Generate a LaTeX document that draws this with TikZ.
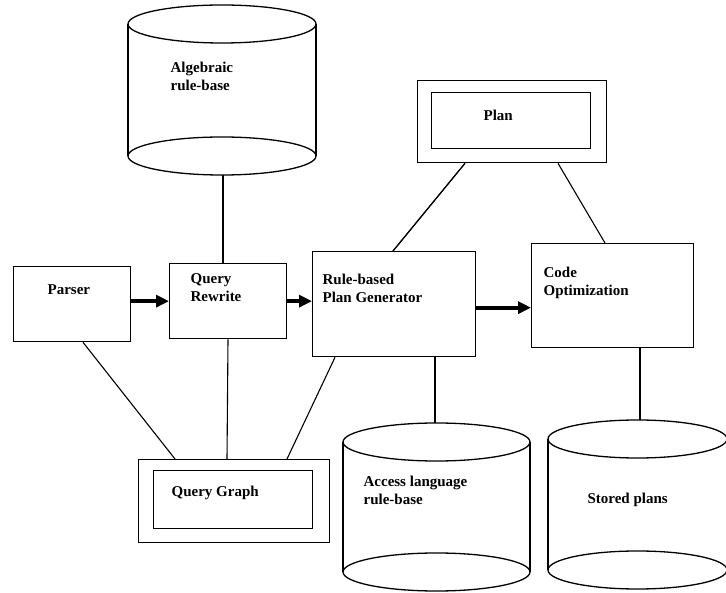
\documentclass[tikz,border=0pt]{standalone}
\usepackage{fontspec}
\setmainfont{Liberation Serif}
\usetikzlibrary{arrows.meta,calc}
\begin{document}
\begin{tikzpicture}[x=1pt,y=-1pt,
  line width=1.2pt,
  box/.style={draw,line width=1.3pt,inner sep=0pt,anchor=north west},
  lbl/.style={font=\fontsize{15}{18}\selectfont\bfseries,inner sep=0pt,anchor=west,align=left},
  conn/.style={line width=1.1pt},
  bigarrow/.style={line width=4pt,-{Triangle[length=13pt,width=12pt]}}]
\useasboundingbox[fill=white] (0,0) rectangle (726,593);

% boxes
\node[box,minimum width=117pt,minimum height=75pt] (parser) at (13,266) {};
\node[box,minimum width=117pt,minimum height=75pt] (qr) at (169,263) {};
\node[box,minimum width=163pt,minimum height=105pt] (rpg) at (312,251) {};
\node[box,minimum width=162pt,minimum height=104pt] (code) at (531,243) {};
\node[box,minimum width=189pt,minimum height=82pt] (planout) at (417,80) {};
\node[box,minimum width=159pt,minimum height=56pt] (planin) at (431,92) {};
\node[box,minimum width=191pt,minimum height=83pt] (qgout) at (138,459) {};
\node[box,minimum width=159pt,minimum height=58pt] (qgin) at (153,470) {};

% labels
\node[lbl] (parserl) at (47,290) {Parser};
\node[lbl] (qrl) at (190,287.5) {Query\\Rewrite};
\node[lbl] (rpgl) at (322,288) {Rule-based\\Plan Generator};
\node[lbl] (codel) at (543,282.5) {Code\\Optimization};
\node[lbl] (planl) at (483,115) {Plan};
\node[lbl] (qgl) at (171,493) {Query Graph};

% cylinders
\begin{scope}[line width=1.3pt]
% Algebraic rule-base
\draw (222,24) ellipse [x radius=94pt, y radius=19pt];
\draw (222,156) ellipse [x radius=94pt, y radius=19pt];
\draw (128,24) -- (128,156) (316,24) -- (316,156);
% Access language rule-base
\draw (436.5,442) ellipse [x radius=93.5pt, y radius=19pt];
\draw (436.5,572) ellipse [x radius=93.5pt, y radius=19pt];
\draw (343,442) -- (343,572) (530,442) -- (530,572);
% Stored plans
\draw (637.5,439) ellipse [x radius=89.5pt, y radius=19pt];
\draw (637.5,570) ellipse [x radius=89.5pt, y radius=19pt];
\draw (548,439) -- (548,570) (727,439) -- (727,570);
\end{scope}
\node[lbl] (algl) at (170,76.5) {Algebraic\\rule-base};
\node[lbl] (accl) at (363,490) {Access language\\rule-base};
\node[lbl] (stol) at (587,500) {Stored plans};

\coordinate (algB) at (223,175);
\coordinate (accT) at (435,423);
\coordinate (stoT) at (640,420);

% connectors
\draw[conn] (algB) -- (qr.north -| algB);
\draw[conn] (planout.south west) ++(48,0) coordinate (pl1) -- (rpg.north west -| 393,0);
\draw[conn] (pl1) -- ($(rpg.north west)+(81,0)$);
\draw[conn] ($(planout.south west)+(141,0)$) -- ($(code.north west)+(74,0)$);
\draw[conn] ($(parser.south west)+(70,0)$) -- ($(qgout.north west)+(37,0)$);
\draw[conn] ($(qr.south west)+(59,0)$) -- ($(qgout.north west)+(89,0)$);
\draw[conn] ($(rpg.south west)+(23,0)$) -- ($(qgout.north west)+(149,0)$);
\draw[conn] (rpg.south -| accT) -- (accT);
\draw[conn] (code.south -| stoT) -- (stoT);

% arrows
\draw[bigarrow] (parser.east |- qr.west) -- (qr.west);
\draw[bigarrow] (qr.east) -- (qr.east -| rpg.west);
\draw[bigarrow] ($(rpg.east)+(0,3.5)$) coordinate (ra) -- (ra -| code.west);
\end{tikzpicture}
\end{document}
